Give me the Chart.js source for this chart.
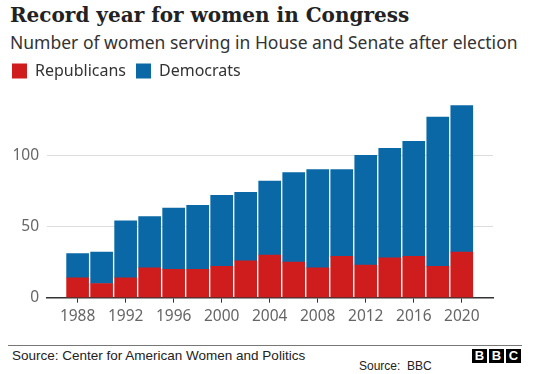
<!DOCTYPE html>
<html><head><meta charset="utf-8">
<script src="https://cdn.jsdelivr.net/npm/chart.js@4"></script>
<style>
body{margin:0;width:547px;height:374px;background:#fff;position:relative;overflow:hidden}
#title{position:absolute;left:10px;top:3px;font:bold 20px "DejaVu Serif",serif;color:#222;white-space:nowrap}
#subtitle{position:absolute;left:10px;top:30px;font:17.5px "Noto Sans",sans-serif;color:#333;white-space:nowrap}
#wrap{position:absolute;left:0;top:53px;width:547px;height:292px}
#rule{position:absolute;left:8px;top:345px;width:514px;height:1px;background:#777}
#src{position:absolute;left:12px;top:348px;font:13.5px "Liberation Sans",Arial,sans-serif;color:#222;white-space:nowrap}
#src2{position:absolute;left:359px;top:359px;font:12px "Liberation Sans",Arial,sans-serif;color:#222;white-space:nowrap}
.blk{position:absolute;top:349px;width:15px;height:14px;background:#000;color:#fff;font:bold 13px "Liberation Sans",Arial,sans-serif;text-align:center;line-height:14px}
</style></head>
<body>
<div id="title">Record year for women in Congress</div>
<div id="subtitle">Number of women serving in House and Senate after election</div>
<div id="wrap"><canvas id="c"></canvas></div>
<div id="rule"></div>
<div id="src">Source: Center for American Women and Politics</div>
<div id="src2">Source:&nbsp; BBC</div>
<div class="blk" style="left:472px">B</div>
<div class="blk" style="left:489px">B</div>
<div class="blk" style="left:506px">C</div>
<script>
const years = [1988,1990,1992,1994,1996,1998,2000,2002,2004,2006,2008,2010,2012,2014,2016,2018,2020];
const republicans = [14,10,14,21,20,20,22,26,30,25,21,29,23,28,29,22,32];
const democrats   = [17,22,40,36,43,45,50,48,52,63,69,61,77,77,81,105,103];
const xTickYears = [1988,1992,1996,2000,2004,2008,2012,2016,2020];
const yTickValues = [0,50,100];
const X_MIN = 1985.45, X_MAX = 2022.6, Y_MAX = 146.7;

new Chart(document.getElementById('c'), {
  type: 'bar',
  data: {
    labels: years,
    datasets: [
      {label:'Republicans', data: republicans, backgroundColor:'#cf1d1d', barThickness:22, borderWidth:0},
      {label:'Democrats', data: democrats, backgroundColor:'#0b68a7', barThickness:22, borderWidth:0}
    ]
  },
  options: {
    responsive: true, maintainAspectRatio: false, animation: false,
    layout: {padding: {left:2, right:54, top:0, bottom:13.7}},
    plugins: {
      tooltip: {enabled:false},
      legend: {position:'top', align:'start',
        labels: {boxWidth:15, boxHeight:15, padding:10, color:'#333', font:{family:'"Noto Sans"', size:16}}}
    },
    scales: {
      x: {type:'linear', stacked:true, offset:false, min:X_MIN, max:X_MAX,
        afterBuildTicks: s => { s.ticks = xTickYears.map(v => ({value:v})); },
        grid: {drawOnChartArea:false, drawTicks:true, tickLength:5, color:'#333', offset:false},
        border: {color:'#333', width:1.5},
        ticks: {color:'#666', padding:5, font:{family:'"Noto Sans"', size:15.5}, callback: v => String(v), maxRotation:0, autoSkip:false}
      },
      y: {stacked:true, min:0, max:Y_MAX,
        afterBuildTicks: s => { s.ticks = yTickValues.map(v => ({value:v})); },
        afterFit: s => { s.width = 45; },
        grid: {color:'#ddd', drawTicks:false},
        border: {display:false},
        ticks: {color:'#666', padding:8, font:{family:'"Noto Sans"', size:15.5}}
      }
    }
  }
});
</script>
</body></html>
